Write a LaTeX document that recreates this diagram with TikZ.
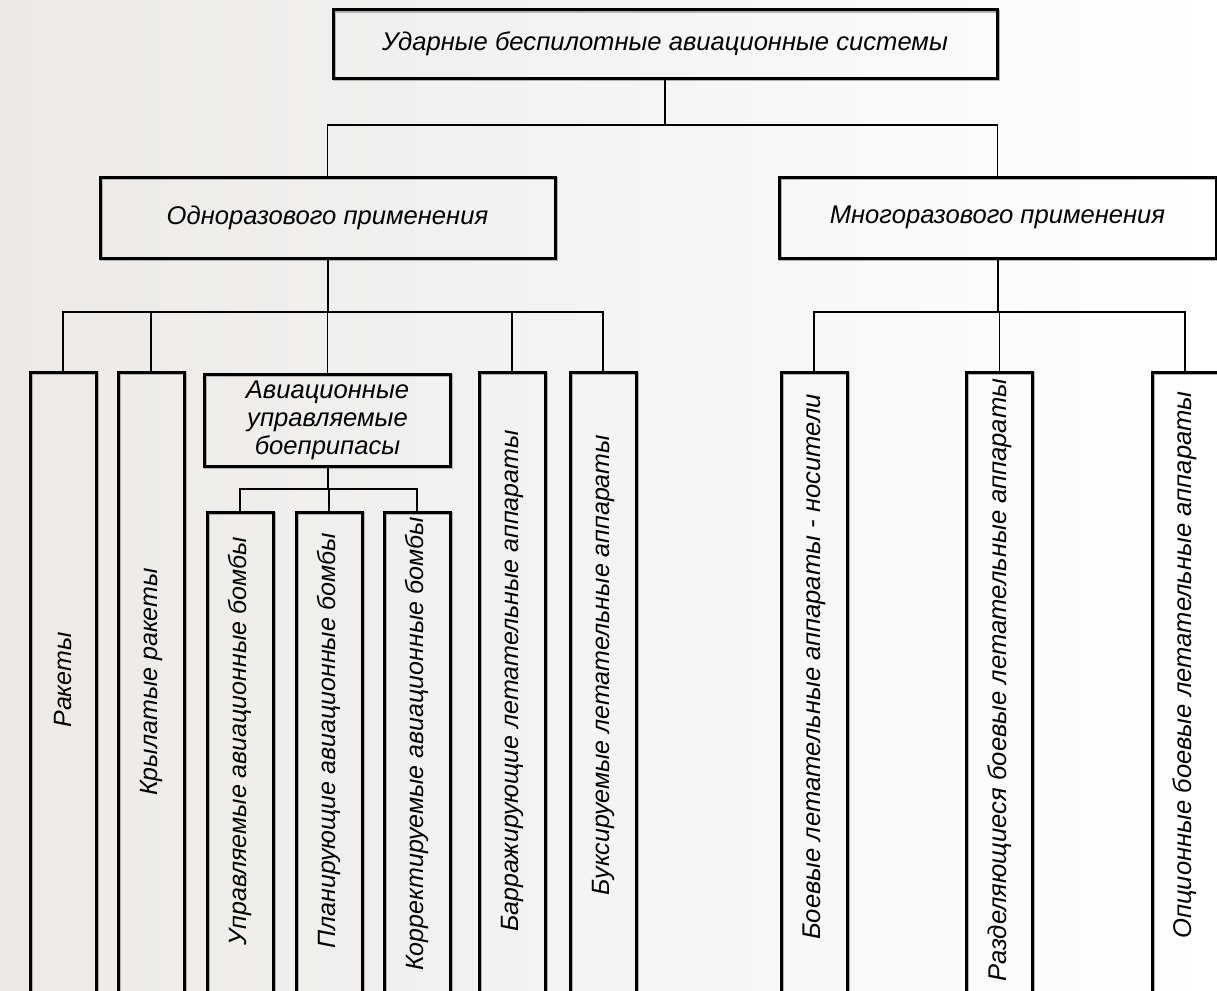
\documentclass[tikz,border=0pt]{standalone}
\usepackage{fontspec}
\setmainfont{Liberation Sans}
\definecolor{bgL}{HTML}{ECE9E6}
\definecolor{bgR}{HTML}{FFFFFF}
\begin{document}
\begin{tikzpicture}[x=1pt,y=-1pt,
  txt/.style={font=\fontsize{25.6}{28}\selectfont\itshape, inner sep=0pt},
  box/.style={txt, draw, line width=3pt, rectangle,
    preaction={draw=black!30, line width=3pt, transform canvas={shift={(1.2pt,-1.2pt)}}}},
  vbox/.style={box, minimum height=66pt},
  vtxt/.style={txt, rotate=90, font=\fontsize{25}{28}\selectfont\itshape},
  vtxtR/.style={vtxt, font=\fontsize{25.6}{28}\selectfont\itshape},
  conn/.style={line width=1.3pt},
  trunk/.style={line width=2pt}]
\useasboundingbox (0,0) rectangle (1217,990);
\clip (0,0) rectangle (1217,990);
\shade[left color=bgL, right color=bgR] (0,0) rectangle (1217,990);

% connectors
\coordinate (j0) at (665,125);
\coordinate (j1) at (327.5,312);
\coordinate (j2) at (327.5,489);
\coordinate (j3) at (997.5,312);

% top level
\node[box, minimum width=664pt, minimum height=68pt] (top) at (665,44) {Ударные беспилотные авиационные системы};
\node[box, minimum width=455pt, minimum height=81pt] (one) at (327.5,217.5) {Одноразового применения};
\node[box, minimum width=437pt, minimum height=81pt] (many) at (997.5,217.5) {Многоразового применения};
\node[box, minimum width=246pt, minimum height=92pt, align=center] (aub) at (327.5,420) {Авиационные\\управляемые\\боеприпасы};

% tall boxes (top at 372, running past the lower edge)
\foreach \n/\x in {r1/63, r2/151, r4/512, r5/603, m1/814, m2/999.5, m3/1185}
  {\node[vbox, minimum width=66pt, minimum height=620pt] (\n) at (\x,682) {};}
\foreach \n/\x in {b1/240, b2/329, b3/417}
  {\node[vbox, minimum width=66pt, minimum height=480pt] (\n) at (\x,752) {};}

\draw[trunk] (top.south) -- (j0);
\draw[conn] (one.north) |- (j0) -| (many.north);
\draw[trunk] (one.south) -- (j1);
\foreach \n in {r1,r2,r4,r5}{\draw[conn] (j1) -| (\n.north);}
\draw[conn] (j1) -- (aub.north);
\draw[trunk] (aub.south) -- (j2);
\foreach \n in {b1,b2,b3}{\draw[conn] (j2) -| (\n.north);}
\draw[trunk] (many.south) -- (j3);
\foreach \n in {m1,m2,m3}{\draw[conn] (j3) -| (\n.north);}

% vertical texts
\node[vtxt] (r1t) at (63,680) {Ракеты};
\node[vtxt] (r2t) at (151,682) {Крылатые ракеты};
\node[vtxt] (r4t) at (512,681) {Барражирующие летательные аппараты};
\node[vtxt] (r5t) at (603,665) {Буксируемые летательные аппараты};
\node[vtxt] (b1t) at (240,741) {Управляемые авиационные бомбы};
\node[vtxt] (b2t) at (329,741) {Планирующие авиационные бомбы};
\node[vtxt] (b3t) at (417,744) {Корректируемые авиационные бомбы};
\node[vtxtR] (m1t) at (814,667) {Боевые летательные аппараты - носители};
\node[vtxtR] (m2t) at (999.5,680) {Разделяющиеся боевые летательные аппараты};
\node[vtxtR] (m3t) at (1185,665) {Опционные боевые летательные аппараты};
\end{tikzpicture}
\end{document}
